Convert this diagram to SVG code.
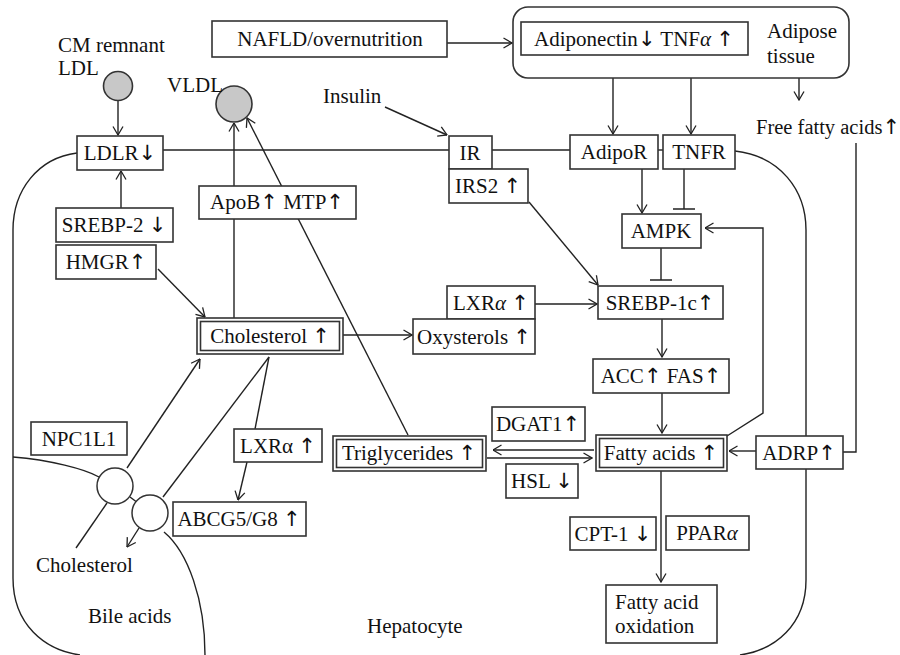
<svg xmlns="http://www.w3.org/2000/svg" width="900" height="655" viewBox="0 0 900 655">
<defs>
<marker id="ar" viewBox="0 0 10 12" refX="9.5" refY="6" markerWidth="10" markerHeight="12" markerUnits="userSpaceOnUse" orient="auto">
<path d="M1,1 L9.5,6 L1,11" fill="none" stroke="#222" stroke-width="1.3"/>
</marker>
</defs>
<style>
text{font-family:"Liberation Serif","DejaVu Sans",serif;font-size:21px;fill:#111}
.c{text-anchor:middle}
.b{fill:#fff;stroke:#333;stroke-width:1.6}
.l{fill:none;stroke:#222;stroke-width:1.4}
.a{fill:none;stroke:#222;stroke-width:1.4;marker-end:url(#ar)}
.g{fill:#c8c8c8;stroke:#333;stroke-width:1.6}
.w{fill:#fff;stroke:#333;stroke-width:1.5}
.i{font-style:italic}
.u{font-family:"DejaVu Sans",sans-serif;font-size:21px}
</style>
<rect width="900" height="655" fill="#fff"/>

<g id="membranes">
<path class="l" d="M77,153 C38,158 13,190 13,230 L13,578 C13,625 45,650 80,655"/>
<path class="l" d="M735,151 C780,156 806,190 806,230 L806,580 C806,625 775,650 740,655"/>
<path class="l" d="M13,457 C50,460 85,469 99,477"/>
<path class="l" d="M130,497 L138,503"/>
<path class="l" d="M164,532 C188,552 205,600 205,655"/>
</g>

<g id="connectors">
<path class="l" d="M163,150 L449,150"/>
<path class="l" d="M492,150 L570,150"/>
<path class="l" d="M658,150 L663,150"/>
<path class="a" d="M447,43 L512,43"/>
<path class="a" d="M613,55 L613,134"/>
<path class="a" d="M691,55 L691,134"/>
<path class="a" d="M799,73 L799,100"/>
<path class="l" d="M856,143 L856,452 L843,452"/>
<path class="a" d="M385,107 L447,135"/>
<path class="a" d="M118,100 L118,135"/>
<path class="a" d="M121,208 L121,171"/>
<path class="a" d="M234,318 L234,123"/>
<path class="a" d="M408,435 L247,118"/>
<path class="a" d="M158,269 L205,317"/>
<path class="a" d="M343,335 L412,335"/>
<path class="a" d="M535,304 L597,304"/>
<path class="a" d="M529,202 L598,285"/>
<path class="a" d="M642,169 L642,213"/>
<path class="l" d="M684,169 L684,209 M673,209 L695,209"/>
<path class="l" d="M661,248 L661,280 M650,280 L672,280"/>
<path class="a" d="M727,436 L763,413 L763,228 L705,228"/>
<path class="a" d="M662,319 L662,357"/>
<path class="a" d="M662,393 L662,433"/>
<path class="a" d="M756,451 L729,451"/>
<path class="a" d="M594,450 L493,450"/>
<path class="a" d="M487,458 L592,458"/>
<path class="a" d="M661,471 L661,582"/>
<path class="a" d="M127,468 L200,359"/>
<path class="l" d="M107,503 L76,548"/>
<path class="l" d="M269,357 L163,497"/>
<path class="l" d="M269,357 L255,429"/>
<path class="a" d="M247,462 L238,500"/>
<path class="a" d="M139,528 L127,547"/>
</g>

<g id="cm-ldl"><circle class="g" cx="118" cy="86" r="14.5"/><text x="58" y="52">CM remnant</text><text x="58" y="75">LDL</text></g>
<g id="vldl"><circle class="g" cx="234" cy="104" r="18"/><text x="167" y="92">VLDL</text></g>
<g id="nafld"><rect class="b" x="212" y="21" width="235" height="36"/><text class="c" x="330" y="46">NAFLD/overnutrition</text></g>
<g id="adipose"><rect class="b" x="513" y="7" width="336" height="71" rx="15"/><text x="767" y="38">Adipose</text><text x="767" y="63">tissue</text></g>
<g id="adipokines"><rect class="b" x="521" y="22" width="227" height="33"/><text class="c" x="634" y="46">Adiponectin<tspan class="u">↓</tspan> TNF<tspan class="i">α</tspan> <tspan class="u">↑</tspan></text></g>
<g id="ffa"><text x="756" y="134" style="font-size:20.5px">Free fatty acids<tspan class="u">↑</tspan></text></g>
<g id="insulin"><text x="323" y="103">Insulin</text></g>
<g id="ldlr"><rect class="b" x="77" y="136" width="86" height="34"/><text class="c" x="120" y="160">LDLR<tspan class="u">↓</tspan></text></g>
<g id="ir"><rect class="b" x="449" y="136" width="43" height="33"/><text class="c" x="470" y="160">IR</text></g>
<g id="irs2"><rect class="b" x="449" y="169" width="79" height="34"/><text class="c" x="488" y="193">IRS2 <tspan class="u">↑</tspan></text></g>
<g id="adipor"><rect class="b" x="570" y="135" width="88" height="34"/><text class="c" x="614" y="159">AdipoR</text></g>
<g id="tnfr"><rect class="b" x="663" y="135" width="72" height="34"/><text class="c" x="699" y="159">TNFR</text></g>
<g id="apob"><rect class="b" x="199" y="186" width="157" height="33"/><text class="c" x="277" y="209">ApoB<tspan class="u">↑</tspan> MTP<tspan class="u">↑</tspan></text></g>
<g id="srebp2"><rect class="b" x="56" y="208" width="117" height="34"/><text class="c" x="114" y="232">SREBP-2 <tspan class="u">↓</tspan></text></g>
<g id="hmgr"><rect class="b" x="56" y="245" width="100" height="34"/><text class="c" x="106" y="269">HMGR<tspan class="u">↑</tspan></text></g>
<g id="ampk"><rect class="b" x="622" y="214" width="79" height="34"/><text class="c" x="661" y="238">AMPK</text></g>
<g id="lxra-up"><rect class="b" x="447" y="286" width="88" height="33"/><text class="c" x="491" y="310">LXR<tspan class="i">α</tspan> <tspan class="u">↑</tspan></text></g>
<g id="srebp1c"><rect class="b" x="598" y="286" width="125" height="33"/><text class="c" x="660" y="310">SREBP-1c<tspan class="u">↑</tspan></text></g>
<g id="cholesterol"><rect class="b" x="197" y="318" width="146" height="36"/><rect class="b" x="200.5" y="321.5" width="139" height="29"/><text class="c" x="270" y="343">Cholesterol <tspan class="u">↑</tspan></text></g>
<g id="oxysterols"><rect class="b" x="413" y="319" width="122" height="35"/><text class="c" x="474" y="344">Oxysterols <tspan class="u">↑</tspan></text></g>
<g id="accfas"><rect class="b" x="593" y="359" width="136" height="34"/><text class="c" x="661" y="383">ACC<tspan class="u">↑</tspan> FAS<tspan class="u">↑</tspan></text></g>
<g id="dgat1"><rect class="b" x="492" y="407" width="93" height="34"/><text class="c" x="538" y="431">DGAT1<tspan class="u">↑</tspan></text></g>
<g id="triglycerides"><rect class="b" x="333" y="436" width="153" height="35"/><rect class="b" x="336.5" y="439.5" width="146" height="28"/><text class="c" x="409" y="460">Triglycerides <tspan class="u">↑</tspan></text></g>
<g id="fattyacids"><rect class="b" x="596" y="435" width="131" height="36"/><rect class="b" x="599.5" y="438.5" width="124" height="29"/><text class="c" x="661" y="460">Fatty acids <tspan class="u">↑</tspan></text></g>
<g id="adrp"><rect class="b" x="756" y="436" width="87" height="33"/><text class="c" x="799" y="460">ADRP<tspan class="u">↑</tspan></text></g>
<g id="hsl"><rect class="b" x="506" y="464" width="72" height="34"/><text class="c" x="542" y="488">HSL <tspan class="u">↓</tspan></text></g>
<g id="npc1l1"><rect class="b" x="31" y="422" width="96" height="33"/><text class="c" x="79" y="446">NPC1L1</text></g>
<g id="lxra-low"><rect class="b" x="234" y="429" width="88" height="33"/><text class="c" x="278" y="453">LXRα <tspan class="u">↑</tspan></text></g>
<g id="abcg5g8"><rect class="b" x="173" y="502" width="133" height="34"/><text class="c" x="239" y="526">ABCG5/G8 <tspan class="u">↑</tspan></text></g>
<g id="cpt1"><rect class="b" x="570" y="517" width="86" height="33"/><text class="c" x="613" y="541">CPT-1 <tspan class="u">↓</tspan></text></g>
<g id="ppara"><rect class="b" x="666" y="516" width="83" height="34"/><text class="c" x="707" y="540">PPAR<tspan class="i">α</tspan></text></g>
<g id="fao"><rect class="b" x="606" y="585" width="111" height="58"/><text x="615" y="609">Fatty acid</text><text x="615" y="633">oxidation</text></g>
<g id="transporter1"><circle class="w" cx="115" cy="486" r="18"/></g>
<g id="transporter2"><circle class="w" cx="150" cy="513" r="18"/></g>
<g id="labels"><text x="36" y="572">Cholesterol</text><text x="88" y="623">Bile acids</text><text x="367" y="633">Hepatocyte</text></g>
</svg>
